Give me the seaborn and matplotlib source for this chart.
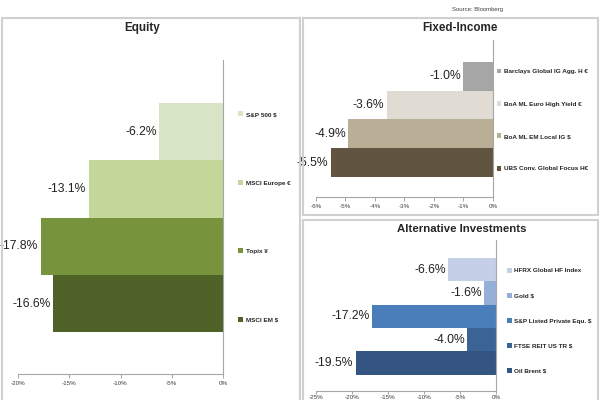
import matplotlib
matplotlib.use("Agg")
import matplotlib.pyplot as plt
import seaborn as sns
import pandas as pd
from matplotlib.patches import Patch, Rectangle
from matplotlib.ticker import FuncFormatter

sns.set_theme(style="white")
plt.rcParams["font.family"] = ["Liberation Sans", "DejaVu Sans"]

# ---------------- data ----------------
equity_names = ["S&P 500 $", "MSCI Europe €", "Topix ¥", "MSCI EM $"]
equity_values = [-6.2, -13.1, -17.8, -16.6]
equity_colors = ["#D8E4C6", "#C4D79B", "#77933C", "#4F6228"]
equity_ticks = [-20, -15, -10, -5, 0]

fixed_names = ["Barclays Global IG Agg. H €", "BoA ML Euro High Yield €",
               "BoA ML EM Local IG $", "UBS Conv. Global Focus H€"]
fixed_values = [-1.0, -3.6, -4.9, -5.5]
fixed_colors = ["#A6A6A6", "#E0DCD4", "#B9AE96", "#615541"]
fixed_ticks = [-6, -5, -4, -3, -2, -1, 0]

alt_names = ["HFRX Global HF Index", "Gold $", "S&P Listed Private Equ. $",
             "FTSE REIT US TR $", "Oil Brent $"]
alt_values = [-6.6, -1.6, -17.2, -4.0, -19.5]
alt_colors = ["#C5CFE5", "#95B0D6", "#4A7EBB", "#3B6396", "#345482"]
alt_ticks = [-25, -20, -15, -10, -5, 0]

W, H = 600, 400
fig = plt.figure(figsize=(6, 4), dpi=100)


def px_axes(left, right, top, bottom):
    return fig.add_axes([left / W, (H - bottom) / H, (right - left) / W, (bottom - top) / H])


def panel(ax, names, values, colors, ticks, pad_top, pad_bot, leg_x, leg_y, spacing,
          tick_len=3, tick_pad=2):
    df = pd.DataFrame({"name": names, "value": values})
    sns.barplot(data=df, x="value", y="name", hue="name", palette=colors,
                dodge=False, width=1.0, orient="h", legend=False, ax=ax,
                linewidth=0, edgecolor="none", saturation=1)
    n = len(names)
    ax.set_ylim(n - 0.5 + pad_bot, -0.5 - pad_top)
    ax.set_xlim(ticks[0], 0)
    ax.set_xticks(ticks)
    ax.xaxis.set_major_formatter(FuncFormatter(lambda v, p: f"{v:.0f}%"))
    ax.set_xlabel("")
    ax.set_ylabel("")
    ax.tick_params(axis="y", left=False, labelleft=False)
    ax.tick_params(axis="x", bottom=True, labelsize=4.5, labelcolor="#404040",
                   color="#A6A6A6", length=tick_len, width=0.7, pad=tick_pad,
                   direction="out")
    for s in ["left", "top"]:
        ax.spines[s].set_visible(False)
    for s in ["right", "bottom"]:
        ax.spines[s].set_visible(True)
        ax.spines[s].set_color("#A6A6A6")
        ax.spines[s].set_linewidth(0.8)
    ax.patch.set_alpha(0)
    for i, v in enumerate(values):
        ax.annotate(f"{v:.1f}%", xy=(v, i), xytext=(-1.8, 0), textcoords="offset points",
                    ha="right", va="center", fontsize=8.7, color="#222222",
                    annotation_clip=False)
    handles = [Patch(facecolor=c, edgecolor="none", label=nm) for nm, c in zip(names, colors)]
    ax.legend(handles=handles, loc="center left", bbox_to_anchor=(leg_x, leg_y),
              frameon=False, borderpad=0, borderaxespad=0, handlelength=0.75,
              handleheight=0.75, handletextpad=0.4, labelspacing=spacing,
              prop={"size": 4.6, "weight": "bold"}, labelcolor="#262626")


# panel frames
for (x0, y0, x1, y1) in [(2, 18, 300, 403), (303, 18, 598, 215), (303, 220, 598, 403)]:
    fig.patches.append(Rectangle((x0 / W, (H - y1) / H), (x1 - x0) / W, (y1 - y0) / H,
                                 transform=fig.transFigure, fill=False,
                                 edgecolor="#D0D0D0", linewidth=1.5))

ax1 = px_axes(18, 223, 60, 374)
panel(ax1, equity_names, equity_values, equity_colors, equity_ticks,
      0.75, 0.73, 1.075, 0.5, 9.85)

ax2 = px_axes(316, 493, 40, 197)
panel(ax2, fixed_names, fixed_values, fixed_colors, fixed_ticks,
      0.765, 0.70, 1.02, 0.49, 4.2)

ax3 = px_axes(316, 496, 240, 391)
panel(ax3, alt_names, alt_values, alt_colors, alt_ticks,
      0.77, 0.70, 1.06, 0.465, 3.05, tick_len=2, tick_pad=1)

fig.text(142 / W, 1 - 28 / H, "Equity", ha="center", va="center", fontsize=8.4, fontweight="bold")
fig.text(460 / W, 1 - 28 / H, "Fixed-Income", ha="center", va="center", fontsize=8.4,
         fontweight="bold")
fig.text(462 / W, 1 - 229 / H, "Alternative Investments", ha="center", va="center",
         fontsize=8.2, fontweight="bold")
fig.text(503 / W, 1 - 9 / H, "Source: Bloomberg", ha="right", va="center", fontsize=4.3,
         color="#404040")

fig.savefig("out.png", dpi=100)
